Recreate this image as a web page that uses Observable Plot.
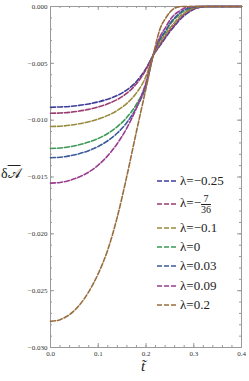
<!DOCTYPE html>
<html><head><meta charset="utf-8">
<script src="https://cdn.jsdelivr.net/npm/d3@7"></script>
<script src="https://cdn.jsdelivr.net/npm/@observablehq/plot@0.6"></script>
<style>
body{margin:0;background:#fff;}
#wrap{position:relative;width:249px;height:381px;font-family:"Liberation Serif","DejaVu Serif",serif;color:#222;}
#wrap svg{display:block;}
.lg{position:absolute;left:157px;height:16px;display:flex;align-items:center;font-size:13px;white-space:nowrap;}
.lg svg{margin-right:4px;}
.frac{display:inline-block;vertical-align:middle;text-align:center;font-size:10px;line-height:10px;}
.frac .n{display:block;border-bottom:1px solid #222;padding:0 1px;}
.frac .d{display:block;}
#ylab{position:absolute;left:1px;top:166px;font-size:14px;white-space:nowrap;}
#xlab{position:absolute;left:141px;top:358px;font-size:15px;font-style:italic;}
</style></head><body><div id="wrap"></div>
<script>
const tGrid = [0,0.02,0.04,0.06,0.08,0.10,0.12,0.14,0.16,0.18,0.20,0.215,0.23,0.24,0.25,0.26,0.27,0.28,0.29,0.30,0.31,0.32,0.33,0.36,0.40];
const seriesNames = ["λ=−0.25","λ=−7/36","λ=−0.1","λ=0","λ=0.03","λ=0.09","λ=0.2"];
const seriesColors = ["#3f3d99","#993d71","#998b3d","#3d9956","#3d5a99","#993d8f","#996d3d"];
const vLamM025 = [-0.00886,-0.00884,-0.00879,-0.00870,-0.00857,-0.00839,-0.00815,-0.00782,-0.00733,-0.00660,-0.00545,-0.0043,-0.0034,-0.0028,-0.0022,-0.0017,-0.0012,-0.0008,-0.0005,-0.00025,-0.0001,-0.00003,0,0,0];
const vLamM736 = [-0.00939,-0.00937,-0.00931,-0.00920,-0.00905,-0.00884,-0.00856,-0.00818,-0.00762,-0.00680,-0.00556,-0.0043,-0.0033,-0.0027,-0.0021,-0.0016,-0.0011,-0.0007,-0.0004,-0.0002,-0.00007,-0.00001,0,0,0];
const vLamM01 = [-0.01056,-0.01053,-0.01045,-0.01032,-0.01014,-0.00990,-0.00958,-0.00914,-0.00852,-0.00760,-0.00615,-0.0043,-0.0031,-0.0025,-0.0019,-0.0014,-0.0009,-0.0006,-0.0003,-0.00012,-0.00003,0,0,0,0];
const vLam0 = [-0.01249,-0.01245,-0.01234,-0.01217,-0.01193,-0.01161,-0.01117,-0.01057,-0.00975,-0.00860,-0.00683,-0.0043,-0.0029,-0.0023,-0.0016,-0.0011,-0.0007,-0.0004,-0.0002,-0.00006,0,0,0,0,0];
const vLam003 = [-0.01331,-0.01326,-0.01314,-0.01295,-0.01268,-0.01231,-0.01181,-0.01113,-0.01020,-0.00890,-0.00695,-0.0043,-0.0028,-0.0022,-0.0015,-0.0010,-0.0006,-0.0003,-0.00015,-0.00003,0,0,0,0,0];
const vLam009 = [-0.01554,-0.01548,-0.01530,-0.01500,-0.01457,-0.01395,-0.01312,-0.01205,-0.01068,-0.00893,-0.00668,-0.0043,-0.0026,-0.0019,-0.0012,-0.0007,-0.0004,-0.00015,-0.00003,0,0,0,0,0,0];
const vLam02 = [-0.0277,-0.02755,-0.0271,-0.0263,-0.0251,-0.0235,-0.0214,-0.0185,-0.0149,-0.0110,-0.0072,-0.0043,-0.0019,-0.0011,-0.0005,-0.00015,-0.00002,0,0,0,0,0,0,0,0];
const xMajor = [0,0.1,0.2,0.3,0.4];
const xMinor = d3.range(0,0.4001,0.02);
const yMajor = [-0.030,-0.025,-0.020,-0.015,-0.010,-0.005,0];
const yMinor = d3.range(-0.030,0.0001,0.001);

const allSeries = [vLamM025,vLamM736,vLamM01,vLam0,vLam003,vLam009,vLam02];
const rows = [];
allSeries.forEach((vals,i)=>vals.forEach((v,j)=>rows.push({t:tGrid[j],v,s:seriesNames[i]})));

const W=249,H=381,mL=50,mR=8,mT=6,mB=34;
const pw=W-mL-mR, ph=H-mT-mB;
const axisCol="#9a9a9a";
const plot = Plot.plot({
  width:W,height:H,marginLeft:mL,marginRight:mR,marginTop:mT,marginBottom:mB,
  style:{fontFamily:"Liberation Serif, serif",fontSize:"7px",color:"#333",background:"#fff"},
  x:{domain:[0,0.4]},
  y:{domain:[-0.030,0]},
  color:{domain:seriesNames,range:seriesColors},
  marks:[
    Plot.frame({stroke:axisCol,strokeWidth:1}),
    Plot.tickX(xMinor,{x:d=>d,insetTop:ph-2,stroke:axisCol}),
    Plot.tickX(xMajor,{x:d=>d,insetTop:ph-4,stroke:axisCol}),
    Plot.tickX(xMinor,{x:d=>d,insetBottom:ph-2,stroke:axisCol}),
    Plot.tickX(xMajor,{x:d=>d,insetBottom:ph-4,stroke:axisCol}),
    Plot.tickY(yMinor,{y:d=>d,insetRight:pw-2,stroke:axisCol}),
    Plot.tickY(yMajor,{y:d=>d,insetRight:pw-4,stroke:axisCol}),
    Plot.tickY(yMinor,{y:d=>d,insetLeft:pw-2,stroke:axisCol}),
    Plot.tickY(yMajor,{y:d=>d,insetLeft:pw-4,stroke:axisCol}),
    Plot.axisX({ticks:xMajor,tickSize:0,tickPadding:4,tickFormat:d3.format(".1f"),label:null,fill:"#333"}),
    Plot.axisY({ticks:yMajor,tickSize:0,tickPadding:3,tickFormat:d=>d===0?"0.000":d3.format(".3f")(d),label:null,fill:"#333"}),
    Plot.line(rows,{x:"t",y:"v",z:"s",stroke:"s",strokeWidth:1.6,strokeDasharray:"5,2",curve:"monotone-x"})
  ]
});
const wrap=document.getElementById("wrap");
wrap.appendChild(plot);

const legendTops=[180.7,204.3,227.7,247,266,285.7,304.7];
seriesNames.forEach((name,i)=>{
  const d=document.createElement("div");
  d.className="lg";
  d.style.top=(legendTops[i]-8)+"px";
  const sw=`<svg width="19" height="4"><line x1="0" y1="2" x2="19" y2="2" stroke="${seriesColors[i]}" stroke-width="1.5" stroke-dasharray="5,2"/></svg>`;
  let label=name;
  if(name==="λ=−7/36") label=`λ=−<span class="frac"><span class="n">7</span><span class="d">36</span></span>`;
  d.innerHTML=sw+`<span>${label}</span>`;
  wrap.appendChild(d);
});
const yl=document.createElement("div");yl.id="ylab";
yl.innerHTML=`δ<span style="text-decoration:overline">𝒜</span>`;
wrap.appendChild(yl);
const xl=document.createElement("div");xl.id="xlab";xl.textContent="t̃";
wrap.appendChild(xl);
</script></body></html>
